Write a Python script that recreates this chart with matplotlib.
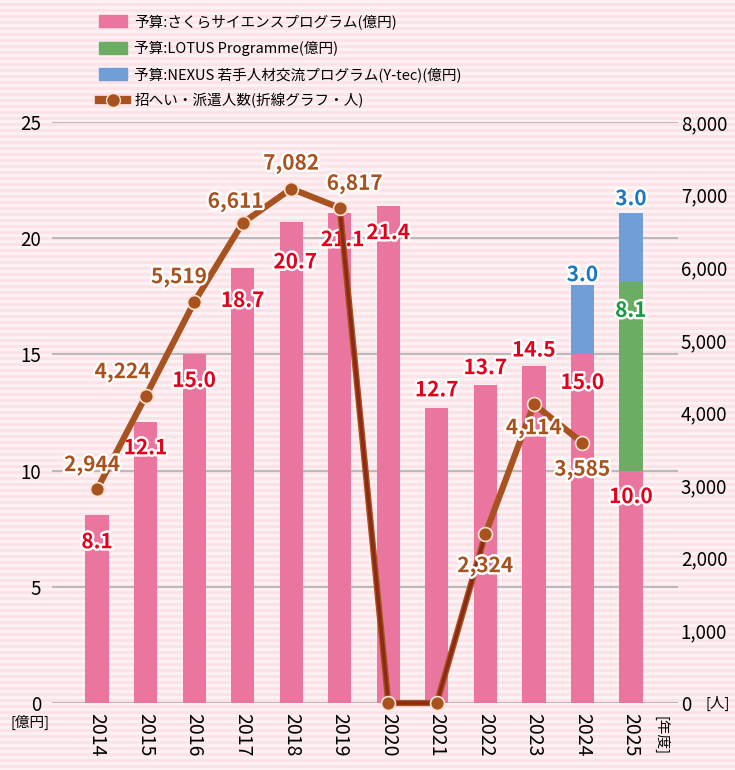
import matplotlib
matplotlib.use("Agg")
import matplotlib.pyplot as plt
import matplotlib.patheffects as pe
from matplotlib.patches import Patch
from matplotlib.lines import Line2D
from matplotlib.colors import ListedColormap
import numpy as np

plt.rcParams["font.family"] = ["Noto Sans CJK JP", "DejaVu Sans"]

# データ
years = ["2014", "2015", "2016", "2017", "2018", "2019", "2020", "2021", "2022", "2023", "2024", "2025"]
sakura = [8.1, 12.1, 15.0, 18.7, 20.7, 21.1, 21.4, 12.7, 13.7, 14.5, 15.0, 10.0]
lotus = [0, 0, 0, 0, 0, 0, 0, 0, 0, 0, 0, 8.1]
nexus = [0, 0, 0, 0, 0, 0, 0, 0, 0, 0, 3.0, 3.0]
people = [2944, 4224, 5519, 6611, 7082, 6817, 0, 0, 2324, 4114, 3585]
people_labels = ["2,944", "4,224", "5,519", "6,611", "7,082", "6,817", "", "", "2,324", "4,114", "3,585"]

# ラベル位置のずれ(px, 上が正)
sakura_off = [(0, -27), (0, -26), (0, -26), (0, -32), (4, -40), (3, -27), (0, -27),
              (0, 18), (0, 17), (0, 16), (0, -28), (0, -26)]
people_off = [(-5, 24), (-23, 24), (-15, 25), (-7, 21), (0, 25), (15, 24), (0, 0), (0, 0),
              (0, -32), (0, -24), (0, -27)]

c_pink = "#ea76a0"
c_green = "#6bae63"
c_blue = "#6f9fd6"
c_line = "#a8521f"
c_red = "#e3001b"

fig = plt.figure(figsize=(7.35, 7.7), dpi=100)

# 背景のしま模様
bg = fig.add_axes([0, 0, 1, 1])
stripes = (np.arange(770) // 3) % 2
bg.imshow(stripes[:, None] * np.ones((1, 10)), aspect="auto", interpolation="nearest",
          cmap=ListedColormap(["#fdf1f3", "#fbe3e8"]), extent=[0, 1, 0, 1])
bg.axis("off")

ax = fig.add_axes([52 / 735, 1 - 703 / 770, 626 / 735, 581 / 770])
ax.patch.set_alpha(0)
x = np.arange(len(years))
w = 0.48
bottom2 = [a + b for a, b in zip(sakura, lotus)]
ax.bar(x, sakura, w, color=c_pink, zorder=2)
ax.bar(x, lotus, w, bottom=sakura, color=c_green, zorder=2)
ax.bar(x[10:], nexus[10:], w, bottom=bottom2[10:], color=c_blue, zorder=2)
ax.set_ylim(0, 25)
ax.set_xlim(-0.93, 11.97)
ax.set_yticks([0, 5, 10, 15, 20, 25])
ax.grid(axis="y", color="#bdb9bb", lw=1.5, zorder=1)
ax.tick_params(axis="y", length=0, pad=8, labelsize=13.5)
ax.set_xticks(x)
ax.set_xticklabels(years, rotation=270, fontsize=14)
ax.tick_params(axis="x", length=0, pad=7)
for s in ax.spines.values():
    s.set_visible(False)

halo = [pe.withStroke(linewidth=3.5, foreground="white")]
k = 0.72
for i, v in enumerate(sakura):
    dx, dy = sakura_off[i]
    ax.annotate(f"{v:.1f}", (x[i], v), xytext=(dx * k, dy * k), textcoords="offset points",
                ha="center", va="center", fontsize=15, fontweight="bold", color=c_red,
                path_effects=halo, zorder=5)
ax.annotate(f"{lotus[11]:.1f}", (x[11], bottom2[11]), xytext=(0, -28 * k), textcoords="offset points",
            ha="center", va="center", fontsize=15, fontweight="bold", color="#159a3c",
            path_effects=halo, zorder=5)
for i, dy in [(10, 10), (11, 14)]:
    ax.annotate(f"{nexus[i]:.1f}", (x[i], bottom2[i] + nexus[i]), xytext=(0, dy * k),
                textcoords="offset points", ha="center", va="center", fontsize=15,
                fontweight="bold", color="#1a78c2", path_effects=halo, zorder=5)

ax2 = ax.twinx()
ax2.set_ylim(0, 8000)
ax2.set_yticks(range(0, 8001, 1000))
ax2.set_yticklabels([f"{v:,}" for v in range(0, 8001, 1000)])
ax2.tick_params(axis="y", length=0, pad=2, labelsize=13.5)
for s in ax2.spines.values():
    s.set_visible(False)
px = x[:len(people)]
ax2.plot(px, people, color=c_line, lw=4.5, solid_capstyle="round", zorder=3, clip_on=False)
ax2.plot(px[5:9], people[5:9], color="#8e2a14", lw=2.5, zorder=3, clip_on=False)
ax2.plot(px, people, "o", ms=10, color=c_line, mec="#fbe3d0", mew=1.2, zorder=4, clip_on=False)
for i, v in enumerate(people):
    if people_labels[i]:
        dx, dy = people_off[i]
        ax2.annotate(people_labels[i], (px[i], v), xytext=(dx * k, dy * k), textcoords="offset points",
                     ha="center", va="center", fontsize=15, fontweight="bold", color=c_line,
                     path_effects=halo, zorder=6)

fig.text(30 / 735, 1 - 722 / 770, "[億円]", ha="center", va="center", fontsize=10.5)
fig.text(661 / 735, 1 - 735 / 770, "[年度]", ha="center", va="center", fontsize=10.5, rotation=270)
fig.text(718 / 735, 1 - 703 / 770, "[人]", ha="center", va="center", fontsize=10.5)

handles = [Patch(color=c_pink), Patch(color=c_green), Patch(color=c_blue),
           Line2D([0], [0], color=c_line, lw=6, marker="o", ms=10, mec="#fbe3d0")]
labels = ["予算:さくらサイエンスプログラム(億円)", "予算:LOTUS Programme(億円)",
          "予算:NEXUS 若手人材交流プログラム(Y-tec)(億円)", "招へい・派遣人数(折線グラフ・人)"]
fig.legend(handles, labels, loc="upper left", bbox_to_anchor=(86 / 735, 1 - 1 / 770),
           frameon=False, fontsize=10.5, handlelength=1.9, handleheight=0.9,
           labelspacing=0.78, handletextpad=0.5)

fig.savefig("out.png", dpi=100)
